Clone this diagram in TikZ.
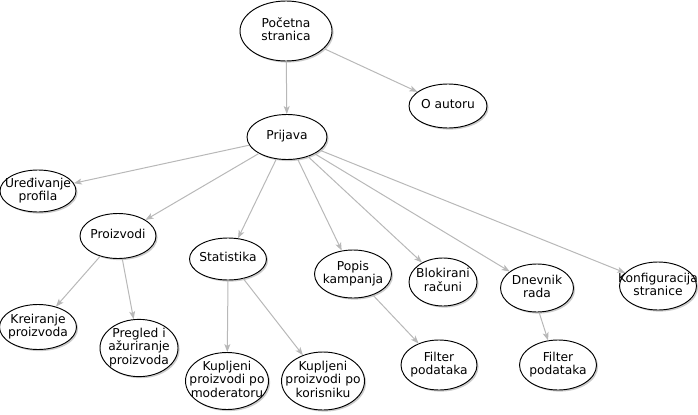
\documentclass[tikz,border=0pt]{standalone}
\usepackage{fontspec}
\setmainfont{DejaVu Sans}
\usepackage{tikz}
\usetikzlibrary{arrows.meta}
\usetikzlibrary{positioning,shapes,shadows}
\definecolor{linkgray}{RGB}{184,184,184}
\tikzset{
    page/.style={
        draw,
        ellipse,
        fill=white,
        line width=0.7pt,
        inner sep=0pt,
        font=\fontsize{9.2}{10}\selectfont,
        drop shadow={shadow xshift=1.2pt, shadow yshift=-1.2pt, opacity=0.4, fill=gray}
    },
    link/.style={
        draw=linkgray,
        line width=0.75pt,
        -{Stealth[length=6pt, width=4.5pt, inset=1.5pt]}
    }
}
\newcommand{\lbl}[1]{\makebox[0pt]{\begin{tabular}{@{}c@{}}#1\end{tabular}}}

\begin{document}
\begin{tikzpicture}[x=0.75pt, y=-0.75pt]
    \useasboundingbox (0,0) rectangle (698,414);
    % Pages
    \node[page, minimum width=69pt, minimum height=45pt] (poc) at (286,31) {\lbl{Početna\\stranica}};
    \node[page, minimum width=58.5pt, minimum height=33pt] (aut) at (448,106) {\lbl{O autoru}};
    \node[page, minimum width=60pt, minimum height=33.75pt] (prij) at (287,137) {\lbl{Prijava}};
    \node[page, minimum width=57pt, minimum height=31.5pt] (ured) at (38,191) {\lbl{Uređivanje\\profila}};
    \node[page, minimum width=57pt, minimum height=33.75pt] (proiz) at (118,236) {\lbl{Proizvodi}};
    \node[page, minimum width=57.75pt, minimum height=31.5pt] (stat) at (228,259) {\lbl{Statistika}};
    \node[page, minimum width=57.75pt, minimum height=36pt] (popis) at (353,274) {\lbl{Popis\\kampanja}};
    \node[page, minimum width=51pt, minimum height=36pt] (blok) at (443,282) {\lbl{Blokirani\\računi}};
    \node[page, minimum width=54.75pt, minimum height=36pt] (dnev) at (537,288) {\lbl{Dnevnik\\rada}};
    \node[page, minimum width=57.75pt, minimum height=36pt] (konf) at (658,286) {\lbl{Konfiguracija\\stranice}};
    \node[page, minimum width=57.75pt, minimum height=33.75pt] (krei) at (38,327) {\lbl{Kreiranje\\proizvoda}};
    \node[page, minimum width=58.5pt, minimum height=39.75pt] (pregl) at (139,348) {\lbl{Pregled i\\ažuriranje\\proizvoda}};
    \node[page, minimum width=62.25pt, minimum height=42.75pt] (kmod) at (227,381) {\lbl{Kupljeni\\proizvodi po\\moderatoru}};
    \node[page, minimum width=62.25pt, minimum height=43.5pt] (kkor) at (323,381) {\lbl{Kupljeni\\proizvodi po\\korisniku}};
    \node[page, minimum width=57pt, minimum height=37.5pt] (filt1) at (439,365) {\lbl{Filter\\podataka}};
    \node[page, minimum width=57.75pt, minimum height=37.5pt] (filt2) at (558,365) {\lbl{Filter\\podataka}};

    % Links
    \draw[link] (poc) -- (prij);
    \draw[link] (poc) -- (aut);
    \draw[link] (prij) -- (ured);
    \draw[link] (prij) -- (proiz);
    \draw[link] (prij) -- (stat);
    \draw[link] (prij) -- (popis);
    \draw[link] (prij) -- (blok);
    \draw[link] (prij) -- (dnev);
    \draw[link] (prij) -- (konf);
    \draw[link] (proiz) -- (krei);
    \draw[link] (proiz) -- (pregl);
    \draw[link] (stat.south) -- (kmod);
    \draw[link] (stat) -- (kkor);
    \draw[link] (popis) -- (filt1);
    \draw[link] (dnev.-85) -- (filt2.112);
\end{tikzpicture}
\end{document}
